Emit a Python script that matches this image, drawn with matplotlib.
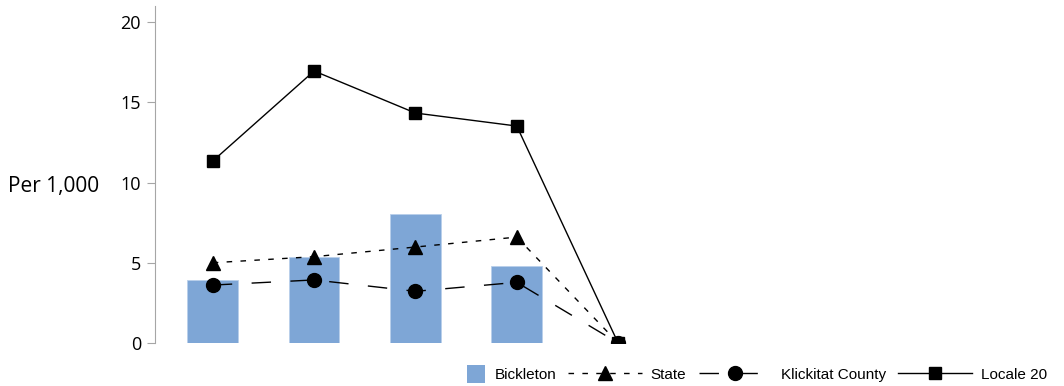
import numpy as np
import matplotlib.pyplot as plt
from matplotlib.patches import Patch, Rectangle
from matplotlib.lines import Line2D
from matplotlib.legend_handler import HandlerPatch

plt.rcParams['font.family'] = ['Open Sans', 'DejaVu Sans']

# data
cats = ['1', '2', '3', '4', '5']
bickleton = [3.93, 5.34, 8.06, 4.82, 0]
state = [5.0, 5.38, 5.98, 6.6, 0]
klickitat = [3.61, 3.93, 3.22, 3.78, 0]
locale20 = [11.34, 16.95, 14.33, 13.52, 0]
yticks = [0, 5, 10, 15, 20]

x = np.arange(len(cats))

fig = plt.figure(figsize=(10.64, 3.86), dpi=100)
ax = fig.add_axes([155/1064, 1-343/386, (1064-155)/1064, (343-6)/386])

ax.bar(x, bickleton, width=0.5, color='#7ea6d6', edgecolor='#b9cfea', linewidth=0.6, zorder=1)
ax.plot(x, state, color='black', lw=1.0, ls=(0, (4, 6)), marker='^', ms=10, zorder=3)
ax.plot(x, klickitat, color='black', lw=1.0, ls=(0, (14, 14)), marker='o', ms=10, zorder=3)
ax.plot(x, locale20, color='black', lw=1.0, ls='-', marker='s', ms=9, zorder=3)

ax.set_xlim(-0.57, 8.4)
ax.set_ylim(0, 21)
ax.set_yticks(yticks)
ax.set_xticks([])
for s in ['top', 'right', 'bottom']:
    ax.spines[s].set_visible(False)
ax.spines['left'].set_color('#a6a6a6')
ax.spines['left'].set_bounds(0, 21)
ax.tick_params(axis='y', length=6, color='#a6a6a6', labelsize=13, pad=4)

fig.text(8/1064, 1-187/386, 'Per 1,000', fontsize=15, va='center', ha='left')


# small square at the right end of the handle box
def small_square(legend, orig_handle, xdescent, ydescent, width, height, fontsize):
    s = 13
    return Rectangle((width - xdescent - s, height / 2 - ydescent - s / 2), s, s)


handles = [
    Patch(facecolor='#7ea6d6', edgecolor='none'),
    Line2D([], [], color='black', lw=1.0, ls=(0, (4, 6)), marker='^', ms=10),
    Line2D([], [], color='black', lw=1.0, ls=(0, (14, 14)), marker='o', ms=10),
    Line2D([], [], color='black', lw=1.0, ls='-', marker='s', ms=9),
]
labels = ['Bickleton', 'State', 'Klickitat County', 'Locale 20']
fig.legend(handles, labels, loc='lower left', bbox_to_anchor=(398/1064, -0.025),
           ncol=4, frameon=False, handlelength=4.8, handleheight=0.9,
           columnspacing=0.8, handletextpad=0.6,
           handler_map={Patch: HandlerPatch(patch_func=small_square)},
           prop={'family': ['Liberation Sans', 'DejaVu Sans'], 'size': 11})

fig.savefig('out.png', dpi=100)
